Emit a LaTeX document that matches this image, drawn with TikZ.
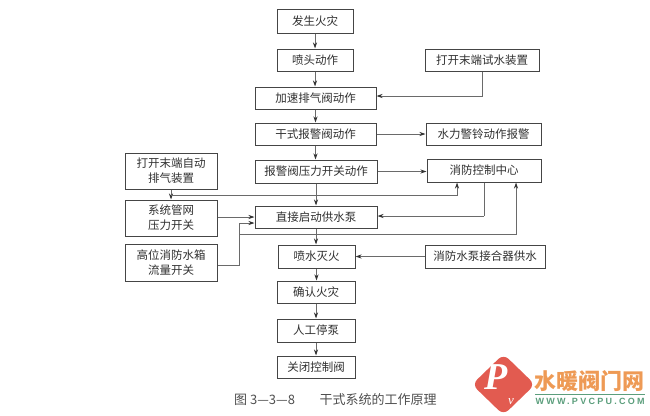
\documentclass[tikz,border=0pt]{standalone}
\usepackage{fontspec}
\setmainfont{Noto Sans CJK SC}
\newfontfamily\latinserif{Liberation Serif}
\newfontfamily\latinsans{Liberation Sans}
\usetikzlibrary{arrows.meta,calc}
\definecolor{boxline}{HTML}{454545}
\definecolor{conn}{HTML}{6A6A6A}
\definecolor{ink}{HTML}{303030}
\definecolor{logored}{HTML}{E25B50}
\definecolor{logoorange}{HTML}{EE9A55}
\definecolor{logogreen}{HTML}{5B9E7C}
\tikzset{
  stepbox/.style={draw=boxline,line width=1pt,fill=white,text=ink,inner sep=0pt,align=center,
    font=\fontsize{11.5}{15}\selectfont},
  flow/.style={draw=conn,line width=0.9pt,-{Stealth[length=6pt,width=4pt,color=black!80]}},
  plain/.style={draw=conn,line width=0.9pt},
}
\begin{document}
\begin{tikzpicture}[x=1pt,y=-1pt]
\useasboundingbox (0,0) rectangle (650,415);
% main column
\node[stepbox,minimum width=76pt,minimum height=24pt] (a1) at (315,21) {发生火灾};
\node[stepbox,minimum width=76pt,minimum height=22pt] (a2) at (315,60) {喷头动作};
\node[stepbox,minimum width=121pt,minimum height=22pt] (a3) at (315.5,98) {加速排气阀动作};
\node[stepbox,minimum width=121pt,minimum height=22pt] (a4) at (315.5,134) {干式报警阀动作};
\node[stepbox,minimum width=122pt,minimum height=23pt] (a5) at (316,171.5) {报警阀压力开关动作};
\node[stepbox,minimum width=122pt,minimum height=22pt] (a6) at (316,217) {直接启动供水泵};
\node[stepbox,minimum width=77pt,minimum height=23pt] (a7) at (316.5,256.5) {喷水灭火};
\node[stepbox,minimum width=78pt,minimum height=22pt] (a8) at (316,292) {确认火灾};
\node[stepbox,minimum width=78pt,minimum height=23pt] (a9) at (316,330.5) {人工停泵};
\node[stepbox,minimum width=78pt,minimum height=22pt] (a10) at (316,367) {关闭控制阀};
% right column
\node[stepbox,minimum width=114pt,minimum height=22pt] (r1) at (482,60) {打开末端试水装置};
\node[stepbox,minimum width=115pt,minimum height=22pt] (r2) at (483.5,134) {水力警铃动作报警};
\node[stepbox,minimum width=114pt,minimum height=23pt] (r3) at (484,170.5) {消防控制中心};
\node[stepbox,minimum width=120pt,minimum height=23pt] (r4) at (485,256.5) {消防水泵接合器供水};
% left column
\node[stepbox,minimum width=92pt,minimum height=36pt] (l1) at (171,171) {打开末端自动\\排气装置};
\node[stepbox,minimum width=92pt,minimum height=36pt] (l2) at (171,218) {系统管网\\压力开关};
\node[stepbox,minimum width=92pt,minimum height=37pt] (l3) at (171,262.5) {高位消防水箱\\流量开关};
% helper points
\coordinate (h1) at (457,195);
\coordinate (h2) at (516,234);
\coordinate (h3) at (239,234);
\coordinate (h4) at (239,265);
\coordinate (h5) at (239,223);
\coordinate (h6) at (484,216);
% vertical flow
\foreach \p/\q in {a1/a2,a2/a3,a3/a4,a4/a5,a5/a6,a6/a7,a7/a8,a8/a9,a9/a10}
  \draw[flow] (\p.south) -- (\p.south |- \q.north);
% right links
\draw[flow] (r1.south) |- (a3.east |- 0,96);
\draw[flow] (a4.east) -- (r2.west);
\draw[flow] (a5.east) -- (r3.west |- a5.east);
\draw[flow] (r4.west) -- (a7.east |- r4.west);
\draw[plain] (r3.south -| h6) -- (h6);
\draw[flow] (h6) -- (a6.east |- h6);
% left links
\draw[flow] (l1.south) -- (l2.north);
\draw[flow] (l1.south |- h1) -- (h1) -- (h1 |- r3.south);
\draw[flow] (l2.east |- 0,217) -- (a6.west |- 0,217);
\draw[flow] (l3.east |- h4) -- (h4) -- (h5) -- (a6.west |- h5);
\draw[flow] (h3) -- (h2) -- (h2 |- r3.south);
% caption
\node[text=ink!85,inner sep=0pt,anchor=west,font=\fontsize{13}{15}\selectfont] (cap) at (234,400) {图 3—3—8\hspace{1.9em}干式系统的工作原理};
% logo
\fill[logored,rounded corners=7pt] (503.5,354) -- (535,384.5) -- (503.5,415) -- (472,384.5) -- cycle;
\node[text=white,inner sep=0pt,font=\latinserif\itshape\bfseries\fontsize{38}{38}\selectfont] (lp) at (496,377) {P};
\node[text=white,inner sep=0pt,font=\latinserif\itshape\fontsize{13}{13}\selectfont] (lv) at (511,402) {v};
\node[text=logoorange,inner sep=0pt,font=\bfseries\fontsize{22}{24}\selectfont,anchor=west] (lt) at (534.5,381) {水暖阀门网};
\fill[logogreen] (535,393.5) rectangle (645,395);
\node[text=logogreen,inner sep=0pt,font=\latinsans\bfseries\fontsize{9}{10}\selectfont\addfontfeature{LetterSpace=25}] (lu) at (590,401.5) {WWW.PVCPU.COM};
\end{tikzpicture}
\end{document}
